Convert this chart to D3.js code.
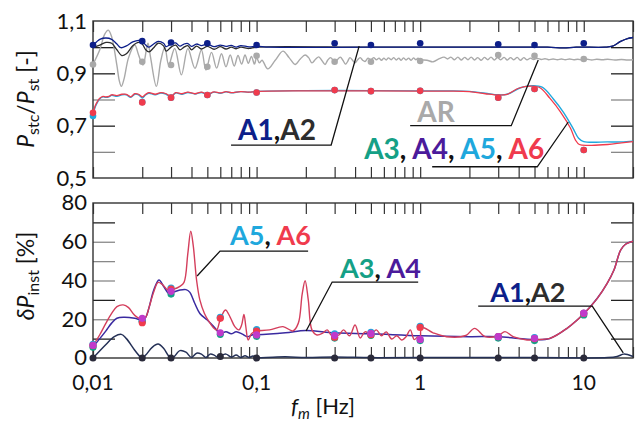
<!DOCTYPE html>
<html><head><meta charset="utf-8">
<script src="https://cdn.jsdelivr.net/npm/d3@7"></script>
<style>
html,body{margin:0;padding:0;background:#fff;}
svg{display:block;font-family:Lato,"Open Sans",sans-serif;}
</style></head>
<body><svg id="c" width="640" height="421"></svg>
<script>
// ---------- DATA ----------
const xTickVals = [0.01, 0.1, 1, 10];
const xTickLabels = ["0,01", "0,1", "1", "10"];
const yTopTickVals = [0.5, 0.7, 0.9, 1.1];
const yTopTickLabels = ["0,5", "0,7", "0,9", "1,1"];
const yBotTickVals = [0, 20, 40, 60, 80];
const yBotTickLabels = ["0", "20", "40", "60", "80"];

// measurement frequencies (markers)
const fTop = [0.01, 0.02, 0.03, 0.05, 0.1, 0.3, 0.5, 1, 3, 5, 10];
const fBot = [0.01, 0.02, 0.03, 0.06, 0.1, 0.3, 0.5, 1, 3, 5, 10];

// top panel markers  Pstc/Pst
const mA1Top = [1.008, 1.023, 1.018, 1.015, 1.008, 1.015, 1.008, 1.015, 1.011, 1.008, 1.015];
const mARTop = [0.934, 0.944, 0.932, 0.925, 0.967, 0.944, 0.944, 0.947, 0.970, 0.967, 0.955];
const mA5Top = [0.737, 0.790, 0.807, 0.817, 0.827, 0.836, 0.832, 0.833, 0.807, 0.840, 0.607];
const mA6Top = [0.749, 0.789, 0.807, 0.817, 0.827, 0.836, 0.832, 0.833, 0.807, 0.840, 0.607];

// bottom panel markers  dPinst [%]
const mA3Bot = [5.5, 19.0, 33.0, 12.2, 11.2, 10.3, 11.7, 9.0, 10.3, 9.0, 22.2];
const mA4Bot = [6.5, 20.5, 34.4, 13.0, 11.9, 11.7, 12.7, 9.6, 11.0, 10.2, 23.2];
const mA5Bot = [7.0, 19.0, 36.1, 21.0, 14.6, 12.5, 13.2, 16.4, 11.0, 10.5, 23.0];
const mA6Bot = [6.5, 18.2, 35.6, 20.5, 13.9, 10.7, 12.0, 15.8, 11.0, 10.0, 23.0];
const mA1Bot = [0, 0, 0, 0.8, 0, 0, 0, 0, 0, 0, 0];

// top panel curves [f, value]
const lineA1Top = [[0.01,1.008],[0.0105,1.02],[0.011,1.03],[0.012,1.035],[0.013,1.03],[0.014,1.012],[0.0148,0.998],[0.016,1.005],[0.0175,1.02],[0.019,1.026],[0.02,1.022],[0.021,1.008],[0.022,1.0],[0.0235,1.012],[0.025,1.022],[0.027,1.015],[0.028,1.002],[0.03,1.012],[0.032,1.016],[0.034,1.004],[0.036,1.012],[0.038,1.014],[0.04,1.003],[0.043,1.012],[0.046,1.006],[0.05,1.012],[0.055,1.002],[0.06,1.008],[0.065,1.003],[0.07,1.007],[0.075,1.0],[0.08,1.006],[0.09,1.001],[0.1,1.004],[0.12,1.0],[0.5,1.0],[3,1.0],[6,1.0],[7.5,0.997],[9,1.0],[13.5,1.0],[15,1.004],[16.8,1.022],[18.5,1.033],[20,1.037]];
const lineA2Top = [[0.01,1.0],[0.011,1.008],[0.012,1.018],[0.013,1.015],[0.014,0.99],[0.015,0.968],[0.016,0.975],[0.0175,1.005],[0.019,1.018],[0.02,1.012],[0.021,0.99],[0.022,0.982],[0.0235,0.998],[0.025,1.015],[0.027,1.005],[0.028,0.985],[0.03,1.0],[0.032,1.008],[0.034,0.99],[0.036,1.0],[0.038,1.006],[0.04,0.99],[0.043,1.004],[0.046,0.993],[0.05,1.003],[0.055,0.992],[0.06,1.002],[0.065,0.993],[0.07,1.0],[0.075,0.994],[0.08,1.0],[0.09,0.995],[0.1,1.0],[0.5,1.0],[3,1.0],[6,1.0],[7.5,0.997],[9,1.0],[13.5,1.0],[15,1.004],[16.8,1.022],[18.5,1.033],[20,1.037]];
const lineARTop = [[0.01,0.934],[0.011,0.99],[0.0118,1.05],[0.0124,1.065],[0.013,1.04],[0.014,0.93],[0.0145,0.87],[0.0149,0.85],[0.0155,0.88],[0.0165,0.96],[0.018,1.008],[0.019,0.97],[0.0202,0.932],[0.0212,0.99],[0.0217,1.015],[0.0225,0.96],[0.0244,0.85],[0.026,0.95],[0.0275,1.0],[0.029,0.932],[0.0316,0.995],[0.0347,0.894],[0.038,0.995],[0.042,0.919],[0.046,0.989],[0.049,0.913],[0.053,0.98],[0.057,0.92],[0.061,0.975],[0.065,0.925],[0.069,0.97],[0.073,0.928],[0.077,0.968],[0.081,0.935],[0.085,0.97],[0.089,0.938],[0.093,0.965],[0.097,0.935],[0.1,0.96],[0.104,0.94],[0.108,0.95],[0.117,0.917],[0.13,0.95],[0.145,0.985],[0.158,0.96],[0.172,0.934],[0.185,0.955],[0.198,0.97],[0.208,0.96],[0.218,0.94],[0.23,0.955],[0.24,0.963],[0.25,0.95],[0.262,0.934],[0.272,0.95],[0.283,0.96],[0.292,0.952],[0.3,0.94],[0.31,0.95],[0.325,0.962],[0.337,0.95],[0.35,0.935],[0.36,0.945],[0.372,0.96],[0.386,0.95],[0.4,0.94],[0.415,0.952],[0.43,0.96],[0.445,0.95],[0.46,0.945],[0.48,0.958],[0.5,0.952],[0.52,0.96],[0.54,0.952],[0.56,0.958],[0.58,0.95],[0.6,0.958],[0.62,0.951],[0.64,0.959],[0.665,0.952],[0.69,0.96],[0.715,0.951],[0.74,0.958],[0.765,0.95],[0.79,0.959],[0.82,0.951],[0.85,0.958],[0.88,0.95],[0.91,0.959],[0.94,0.952],[0.97,0.958],[1.0,0.952],[1.1,0.95],[1.2,0.944],[1.3,0.955],[1.4,0.962],[1.47,0.955],[1.54,0.962],[1.62,0.952],[1.7,0.962],[1.78,0.951],[1.87,0.961],[1.96,0.952],[2.05,0.962],[2.15,0.951],[2.25,0.96],[2.36,0.95],[2.47,0.961],[2.59,0.952],[2.71,0.962],[2.84,0.951],[2.97,0.96],[3.11,0.952],[3.26,0.961],[3.41,0.951],[3.57,0.96],[3.74,0.952],[3.92,0.961],[4.1,0.95],[4.3,0.96],[4.5,0.952],[4.72,0.958],[4.94,0.953],[5.2,0.957],[5.5,0.953],[5.8,0.956],[6.1,0.952],[6.5,0.955],[6.9,0.952],[7.3,0.955],[7.7,0.952],[8.2,0.955],[8.7,0.952],[9.2,0.954],[9.8,0.951],[10.5,0.954],[11.2,0.951],[12,0.954],[13,0.952],[14,0.954],[15.5,0.951],[17,0.953],[18.5,0.951],[20,0.952]];
const lineA5Top = [[0.01,0.735],[0.0103,0.77],[0.0107,0.792],[0.011,0.803],[0.0115,0.81],[0.012,0.808],[0.0125,0.81],[0.013,0.816],[0.014,0.812],[0.015,0.818],[0.016,0.818],[0.017,0.808],[0.018,0.82],[0.019,0.818],[0.02,0.806],[0.021,0.818],[0.022,0.824],[0.024,0.818],[0.026,0.825],[0.028,0.82],[0.03,0.81],[0.032,0.825],[0.035,0.82],[0.038,0.827],[0.042,0.821],[0.046,0.827],[0.05,0.819],[0.055,0.828],[0.06,0.824],[0.065,0.829],[0.07,0.826],[0.08,0.83],[0.09,0.828],[0.1,0.831],[0.2,0.834],[0.5,0.834],[1,0.833],[1.5,0.833],[2,0.831],[2.5,0.824],[3,0.818],[3.4,0.82],[4.1,0.845],[4.9,0.853],[5.6,0.846],[6.5,0.803],[7.5,0.752],[8.6,0.69],[9.3,0.652],[10,0.639],[14,0.638],[17,0.638],[20,0.641]];
const lineA6Top = [[0.01,0.745],[0.0103,0.775],[0.0107,0.795],[0.011,0.805],[0.0115,0.812],[0.012,0.81],[0.0125,0.812],[0.013,0.818],[0.014,0.815],[0.015,0.82],[0.016,0.82],[0.017,0.81],[0.018,0.822],[0.019,0.82],[0.02,0.81],[0.021,0.82],[0.022,0.826],[0.024,0.82],[0.026,0.826],[0.028,0.822],[0.03,0.812],[0.032,0.826],[0.035,0.822],[0.038,0.828],[0.042,0.822],[0.046,0.828],[0.05,0.82],[0.055,0.829],[0.06,0.825],[0.065,0.83],[0.07,0.826],[0.08,0.83],[0.09,0.828],[0.1,0.831],[0.2,0.833],[0.5,0.833],[1,0.832],[1.5,0.832],[2,0.83],[2.5,0.822],[3,0.817],[3.4,0.82],[4.0,0.843],[4.7,0.851],[5.4,0.845],[6.2,0.805],[7.2,0.753],[8.3,0.69],[8.9,0.645],[9.4,0.628],[11,0.625],[14,0.628],[17,0.634],[20,0.639]];

// bottom panel curves [f, value]
const lineA56Bot = [[0.01,6.4],[0.011,12],[0.012,18],[0.013,23],[0.014,26.5],[0.0153,27.4],[0.0165,26],[0.018,22],[0.02,20],[0.021,21],[0.022,26],[0.0235,34],[0.025,39],[0.0265,38],[0.0287,35.1],[0.031,35.5],[0.034,37],[0.036,39],[0.038,54],[0.0396,65.5],[0.041,58],[0.043,40],[0.045,30],[0.048,23],[0.051,19],[0.054,16],[0.057,14.5],[0.06,20],[0.0645,24.8],[0.069,21],[0.0736,16.2],[0.078,14.5],[0.081,17],[0.0837,22.5],[0.086,16],[0.0888,9.3],[0.093,12.5],[0.097,13.6],[0.1,14],[0.12,14.5],[0.145,16.2],[0.167,14],[0.18,18],[0.19,33],[0.198,39.9],[0.207,30],[0.218,14.5],[0.234,11.9],[0.255,13],[0.27,14.5],[0.285,11.9],[0.3,11],[0.32,12],[0.34,14.5],[0.37,11.5],[0.4,17],[0.43,10.3],[0.46,13.5],[0.5,12.2],[0.54,14.5],[0.58,11.5],[0.62,13.5],[0.67,9.8],[0.72,11.5],[0.77,9.3],[0.82,11],[0.87,14.5],[0.92,9.5],[0.97,11],[1.0,10.2],[1.02,15.8],[1.2,13],[1.45,11],[1.9,11.6],[2.15,15.3],[2.5,11],[3.0,11.5],[3.3,13.6],[3.7,11],[4.5,9.3],[5.0,9.5],[6.2,10.1],[7.9,15.3],[10,22.8],[12.1,30.8],[13.9,38.5],[15.3,45.4],[16.8,55.7],[18,58.7],[19.5,60],[20,60.2]];
const lineA34Bot = [[0.01,5.8],[0.011,10],[0.012,14],[0.013,18],[0.014,20.5],[0.0155,21],[0.018,20.5],[0.02,19.6],[0.021,21],[0.022,26],[0.0235,35],[0.0253,40.3],[0.027,37],[0.029,33.4],[0.031,34],[0.034,35.1],[0.037,35.3],[0.039,34],[0.042,28],[0.045,23],[0.05,19.6],[0.055,16],[0.06,12.7],[0.065,13.6],[0.07,12.5],[0.075,13.5],[0.082,12.3],[0.088,11],[0.095,12],[0.1,12],[0.15,13],[0.2,14.2],[0.3,13],[0.5,12.5],[1,11.5],[2,11],[3,11],[5,9.5],[6.2,10.1],[7.9,15.3],[10,22.8],[12.1,30.8],[13.9,38.5],[15.3,45.4],[16.8,55.7],[18,58.7],[19.5,60],[20,60.2]];
const lineA12Bot = [[0.01,0],[0.012,7],[0.0135,11],[0.0149,12.2],[0.016,10],[0.018,4],[0.0195,0.5],[0.02,0],[0.021,1.5],[0.023,5.5],[0.025,7.2],[0.027,5],[0.029,1],[0.03,0],[0.031,0.3],[0.034,3.8],[0.037,3],[0.04,0.3],[0.043,2.5],[0.046,2],[0.049,0.3],[0.052,2],[0.055,1.5],[0.058,0.3],[0.06,1],[0.065,2],[0.07,0.5],[0.075,1.5],[0.08,0.3],[0.085,1.2],[0.09,0.3],[0.095,1],[0.1,0.3],[0.15,0.6],[0.2,0.3],[0.3,0.5],[0.5,0.2],[1,0.2],[5,0.2],[14,0.2],[16,0.8],[17.5,2],[18.5,1.8],[20,0.8]];

// ---------- LAYOUT ----------
const svg = d3.select("#c");
const x = d3.scaleLog().domain([0.01, 20]).range([93, 633]);
const yTop = d3.scaleLinear().domain([0.5, 1.1]).range([178, 21]);
const yBot = d3.scaleLinear().domain([0, 80]).range([358, 203]);

const C = {A1:"#0d1f8a", A2:"#2d2d2d", AR:"#a9a9a9", A3:"#15a086", A4:"#4b1b9b", A5:"#1fa8dd", A6:"#f03b4d", A4m:"#c03acb"};

function panel(y, yTickInner, innerColor) {
  const g = svg.append("g");
  const xt = x.ticks().filter(d => d >= 0.01 && d <= 20);
  g.append("g").attr("transform", `translate(0,${y.range()[1]})`)
    .call(d3.axisTop(x).tickValues(xt).tickSize(-11).tickFormat(""))
    .call(a => a.select(".domain").remove())
    .selectAll("line").attr("stroke", "#333").attr("stroke-width", 1.2);
  g.append("g").attr("transform", `translate(0,${y.range()[0]})`)
    .call(d3.axisBottom(x).tickValues(xt).tickSize(-11).tickFormat(""))
    .call(a => a.select(".domain").remove())
    .selectAll("line").attr("stroke", "#333").attr("stroke-width", 1.2);
  g.append("g").attr("transform", `translate(93,0)`)
    .call(d3.axisLeft(y).tickValues(yTickInner).tickSize(-22).tickFormat(""))
    .call(a => a.select(".domain").remove())
    .selectAll("line").attr("stroke", d => innerColor(d)).attr("stroke-width", 1.3);
  g.append("g").attr("transform", `translate(633,0)`)
    .call(d3.axisRight(y).tickValues(yTickInner).tickSize(-22).tickFormat(""))
    .call(a => a.select(".domain").remove())
    .selectAll("line").attr("stroke", d => innerColor(d)).attr("stroke-width", 1.3);
  g.append("rect").attr("x", 93).attr("y", y.range()[1])
    .attr("width", 540).attr("height", y.range()[0] - y.range()[1])
    .attr("fill", "none").attr("stroke", "#333").attr("stroke-width", 1.4);
  return g;
}

panel(yTop, [0.6, 0.7, 0.8, 0.9, 1.0], d => (Math.abs(d-0.7)<1e-6 || Math.abs(d-0.9)<1e-6 || Math.abs(d-1.0)<1e-6) ? "#222" : "#888");
panel(yBot, [10, 20, 30, 40, 50, 60, 70], d => (d === 10 || d === 70 || d === 30) ? "#222" : "#888");

// y tick labels
svg.append("g").selectAll("text").data(yTopTickVals).join("text")
  .attr("x", 87).attr("y", d => yTop(d)).attr("dy", "0.35em")
  .attr("text-anchor", "end").attr("font-size", 22).attr("fill", "#111")
  .text((d,i) => yTopTickLabels[i]);
svg.append("g").selectAll("text").data(yBotTickVals).join("text")
  .attr("x", 87).attr("y", d => yBot(d)).attr("dy", "0.33em")
  .attr("text-anchor", "end").attr("font-size", 22).attr("fill", "#111")
  .text((d,i) => yBotTickLabels[i]);
// x tick labels
svg.append("g").selectAll("text").data(xTickVals).join("text")
  .attr("x", d => x(d)).attr("y", 390)
  .attr("text-anchor", "middle").attr("font-size", 21).attr("fill", "#111")
  .text((d,i) => xTickLabels[i]);

// axis titles
const t1 = svg.append("text").attr("transform", "translate(34,99) rotate(-90)")
  .attr("text-anchor", "middle").attr("font-size", 23).attr("fill", "#111");
t1.append("tspan").attr("font-style", "italic").text("P");
t1.append("tspan").attr("font-size", 16).attr("dy", 5).text("stc");
t1.append("tspan").attr("dy", -5).text("/");
t1.append("tspan").attr("font-style", "italic").text("P");
t1.append("tspan").attr("font-size", 16).attr("dy", 5).text("st");
t1.append("tspan").attr("dy", -5).text(" [-]");

const t2 = svg.append("text").attr("transform", "translate(34,276) rotate(-90)")
  .attr("text-anchor", "middle").attr("font-size", 23).attr("fill", "#111");
t2.append("tspan").attr("font-style", "italic").text("δP");
t2.append("tspan").attr("font-size", 16).attr("dy", 5).text("inst");
t2.append("tspan").attr("dy", -5).text(" [%]");

const t3 = svg.append("text").attr("x", 323).attr("y", 414)
  .attr("text-anchor", "middle").attr("font-size", 22).attr("fill", "#111");
t3.append("tspan").attr("font-style", "italic").text("f");
t3.append("tspan").attr("font-style", "italic").attr("font-size", 15).attr("dy", 5).text("m");
t3.append("tspan").attr("dy", -5).text(" [Hz]");

// ---------- CURVES ----------
const curve = d3.curveCatmullRom.alpha(0.5);
function drawLine(data, y, color, w) {
  svg.append("path").datum(data)
    .attr("fill", "none").attr("stroke", color).attr("stroke-width", w)
    .attr("stroke-linejoin", "round")
    .attr("d", d3.line().x(d => x(d[0])).y(d => y(d[1])).curve(curve));
}
function drawDots(fs, vals, y, color, r) {
  svg.append("g").selectAll("circle").data(fs.map((f,i) => [f, vals[i]])).join("circle")
    .attr("cx", d => x(d[0])).attr("cy", d => y(d[1])).attr("r", r).attr("fill", color);
}

// top panel
drawLine(lineARTop, yTop, C.AR, 1.4);
drawLine(lineA2Top, yTop, C.A2, 1.3);
drawLine(lineA1Top, yTop, C.A1, 1.3);
drawLine(lineA5Top, yTop, C.A5, 1.4);
drawLine(lineA6Top, yTop, C.A6, 1.3);
drawDots(fTop, mARTop, yTop, C.AR, 3.3);
drawDots(fTop, mA1Top, yTop, C.A1, 3.3);
drawDots(fTop, mA5Top, yTop, C.A5, 3.3);
drawDots(fTop, mA6Top, yTop, C.A6, 3.3);

// bottom panel
drawLine(lineA12Bot, yBot, "#243056", 1.5);
drawLine(lineA34Bot, yBot, "#3a2aa0", 1.5);
drawLine(lineA56Bot, yBot, "#d43e5c", 1.4);
drawDots(fBot, mA1Bot, yBot, "#2a2a3a", 3.5);
drawDots(fBot, mA3Bot, yBot, C.A3, 3.6);
drawDots(fBot, mA5Bot, yBot, C.A5, 3.6);
drawDots(fBot, mA6Bot, yBot, C.A6, 3.6);
drawDots(fBot, mA4Bot, yBot, C.A4m, 3.6);

// ---------- ANNOTATIONS (data coords) ----------
const annTop = [
  {parts:[["A1",C.A1],[",","#111"],["A2",C.A2]], at:[0.0771,0.645], leader:[[0.0698,0.626],[0.2857,0.626],[0.4236,1.004]]},
  {parts:[["AR",C.AR]], at:[0.959,0.715], leader:[[0.8685,0.700],[3.603,0.700],[5.268,0.951]]},
  {parts:[["A3",C.A3],[", ","#111"],["A4",C.A4],[", ","#111"],["A5",C.A5],[", ","#111"],["A6",C.A6]], at:[0.4545,0.5726], leader:[[1.184,0.543],[5.195,0.543],[8.04,0.714]]}
];
const annBot = [
  {parts:[["A5",C.A5],[", ","#111"],["A6",C.A6]], at:[0.0688,58.3], leader:[[0.2065,55.2],[0.0598,55.2],[0.0433,42.3]]},
  {parts:[["A3",C.A3],[", ","#111"],["A4",C.A4]], at:[0.324,41.1], leader:[[0.9723,39.2],[0.2898,39.2],[0.2007,13.9]]},
  {parts:[["A1",C.A1],[",","#111"],["A2",C.A2]], at:[2.68,29.1], leader:[[2.263,26.8],[11.27,26.8],[17.44,2.6]]}
];
function annotate(list, y, fs) {
  list.forEach(a => {
    svg.append("path").datum(a.leader).attr("fill","none").attr("stroke","#111").attr("stroke-width",1.3)
      .attr("d", d3.line().x(d => x(d[0])).y(d => y(d[1])));
    const t = svg.append("text").attr("x", x(a.at[0])).attr("y", y(a.at[1]))
      .attr("font-size", fs).attr("font-weight", "bold").attr("xml:space","preserve");
    a.parts.forEach(p => t.append("tspan").attr("fill", p[1]).text(p[0]));
  });
}
annotate(annTop, yTop, 28);
annotate(annBot, yBot, 27);
</script></body></html>
